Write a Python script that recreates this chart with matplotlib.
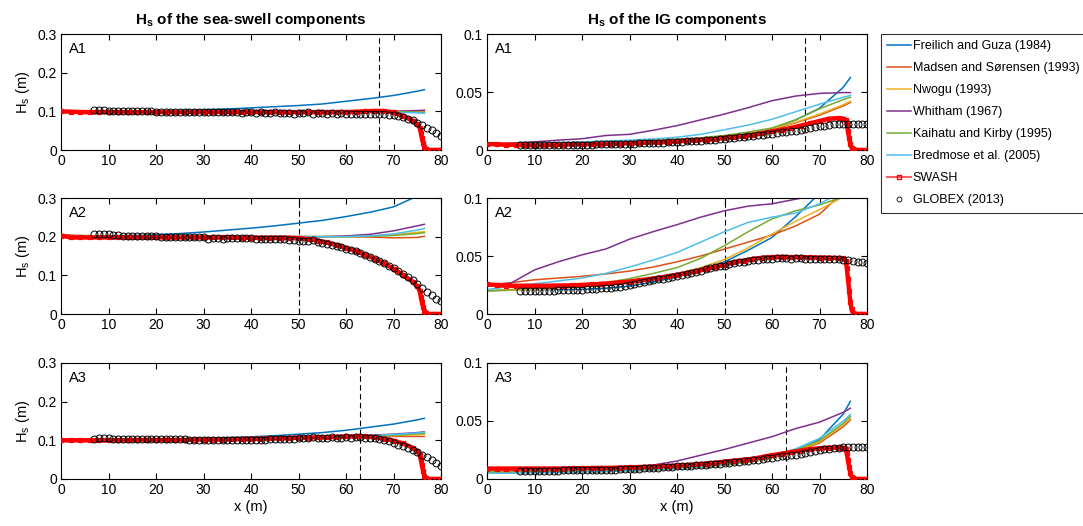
import numpy as np
import matplotlib
matplotlib.use('Agg')
import matplotlib.pyplot as plt
from matplotlib.lines import Line2D

plt.rcParams['font.family'] = ['Liberation Sans', 'DejaVu Sans']
plt.rcParams['mathtext.fontset'] = 'custom'
plt.rcParams['mathtext.rm'] = 'Liberation Sans'
plt.rcParams['mathtext.bf'] = 'Liberation Sans:bold'

# x positions (m)
model_x = [0, 5, 10, 15, 20, 25, 30, 35, 40, 45, 50, 55, 60, 65, 70, 75, 76.5]
swash_x = list(range(0, 75, 2)) + [75, 75.5, 75.75, 76, 76.25, 76.5, 76.75, 77, 78, 79, 80]
globex_x = list(range(7, 81))

model_names = ['Freilich and Guza (1984)', 'Madsen and Sørensen (1993)', 'Nwogu (1993)',
               'Whitham (1967)', 'Kaihatu and Kirby (1995)', 'Bredmose et al. (2005)']
model_colors = ['#0072BD', '#D95319', '#EDB120', '#7E2F8E', '#77AC30', '#4DBEEE']

# ---- A1, sea-swell ----
a1_ss_freilich = [0.1, 0.1, 0.1, 0.1, 0.101, 0.102, 0.104, 0.106, 0.109, 0.112, 0.115, 0.119, 0.126, 0.133, 0.141, 0.152, 0.156]
a1_ss_madsen = [0.1, 0.1, 0.1, 0.1, 0.1, 0.1, 0.1, 0.1, 0.1, 0.1, 0.1, 0.1, 0.1, 0.1, 0.1, 0.099, 0.099]
a1_ss_nwogu = [0.1, 0.1, 0.1, 0.1, 0.1, 0.1, 0.1, 0.1, 0.1, 0.1, 0.1, 0.1, 0.1, 0.1, 0.1, 0.1, 0.1]
a1_ss_whitham = [0.1, 0.1, 0.1, 0.1, 0.1, 0.1, 0.1, 0.1, 0.1, 0.1, 0.1, 0.1, 0.1, 0.1, 0.1, 0.102, 0.103]
a1_ss_kaihatu = [0.1, 0.1, 0.1, 0.1, 0.1, 0.1, 0.1, 0.1, 0.1, 0.1, 0.1, 0.1, 0.1, 0.1, 0.099, 0.098, 0.097]
a1_ss_bredmose = [0.1, 0.1, 0.1, 0.1, 0.1, 0.1, 0.1, 0.1, 0.1, 0.1, 0.1, 0.1, 0.1, 0.099, 0.098, 0.096, 0.095]
a1_ss_swash = [0.100, 0.099, 0.098, 0.098, 0.098, 0.098, 0.098, 0.098, 0.098, 0.098,
               0.098, 0.098, 0.098, 0.098, 0.098, 0.098, 0.098, 0.098, 0.098, 0.098,
               0.098, 0.098, 0.098, 0.098, 0.098, 0.098, 0.098, 0.098, 0.098, 0.098,
               0.098, 0.099, 0.1, 0.101, 0.101, 0.097, 0.088, 0.076,
               0.067, 0.058, 0.045, 0.03, 0.018, 0.008, 0.003, 0.0, 0.0, 0.0, 0.0]
a1_ss_globex = [0.103, 0.103, 0.103, 0.102, 0.102, 0.101, 0.101, 0.1, 0.1, 0.1,
                0.1, 0.1, 0.1, 0.099, 0.099, 0.099, 0.098, 0.099, 0.098, 0.098,
                0.099, 0.098, 0.097, 0.098, 0.097, 0.098, 0.097, 0.097, 0.098, 0.097,
                0.097, 0.096, 0.097, 0.097, 0.096, 0.097, 0.096, 0.096, 0.097, 0.096,
                0.095, 0.096, 0.094, 0.096, 0.095, 0.097, 0.094, 0.095, 0.096, 0.093,
                0.095, 0.094, 0.095, 0.094, 0.094, 0.093, 0.094, 0.093, 0.092, 0.093,
                0.092, 0.092, 0.091, 0.09, 0.088, 0.085, 0.081, 0.077, 0.071, 0.065,
                0.058, 0.051, 0.043, 0.036]

# ---- A1, IG ----
a1_ig_freilich = [0.005, 0.0052, 0.0055, 0.006, 0.0065, 0.007, 0.0075, 0.0082, 0.009, 0.01, 0.0115, 0.014, 0.018, 0.026, 0.036, 0.054, 0.0625]
a1_ig_madsen = [0.005, 0.0052, 0.0055, 0.006, 0.0065, 0.007, 0.0075, 0.0082, 0.009, 0.01, 0.0115, 0.014, 0.0175, 0.0235, 0.03, 0.038, 0.041]
a1_ig_nwogu = [0.005, 0.0052, 0.0055, 0.006, 0.0065, 0.007, 0.0075, 0.0082, 0.009, 0.01, 0.0115, 0.014, 0.018, 0.024, 0.031, 0.039, 0.042]
a1_ig_whitham = [0.005, 0.006, 0.007, 0.0085, 0.0097, 0.0125, 0.0135, 0.017, 0.021, 0.026, 0.031, 0.0365, 0.0425, 0.0465, 0.0488, 0.0495, 0.0495]
a1_ig_kaihatu = [0.005, 0.0052, 0.0055, 0.006, 0.0065, 0.007, 0.0075, 0.0082, 0.009, 0.0105, 0.0125, 0.0155, 0.019, 0.026, 0.0355, 0.0435, 0.0455]
a1_ig_bredmose = [0.005, 0.0053, 0.0058, 0.0063, 0.007, 0.0077, 0.0085, 0.0095, 0.011, 0.0135, 0.0175, 0.0215, 0.0265, 0.033, 0.0395, 0.0455, 0.047]
a1_ig_swash = [0.005, 0.005, 0.0045, 0.0045, 0.004, 0.004, 0.004, 0.0045, 0.0045, 0.005,
               0.005, 0.005, 0.005, 0.0055, 0.0055, 0.006, 0.006, 0.0065, 0.0065, 0.007,
               0.0075, 0.008, 0.0085, 0.009, 0.0095, 0.0105, 0.011, 0.012, 0.013, 0.0145,
               0.016, 0.0175, 0.019, 0.021, 0.023, 0.025, 0.027, 0.0275,
               0.027, 0.026, 0.022, 0.016, 0.01, 0.005, 0.002, 0.0005, 0.0, 0.0, 0.0]
a1_ig_globex = [0.0045, 0.0045, 0.0045, 0.0045, 0.0045, 0.0045, 0.0045, 0.0045, 0.0045, 0.0045,
                0.0045, 0.0045, 0.0045, 0.0045, 0.0045, 0.0045, 0.0048, 0.0048, 0.005, 0.005,
                0.005, 0.0052, 0.0052, 0.0055, 0.0055, 0.0057, 0.0058, 0.006, 0.006, 0.0062,
                0.0064, 0.0065, 0.0067, 0.007, 0.0072, 0.0074, 0.0076, 0.0078, 0.008, 0.0083,
                0.0086, 0.0089, 0.0092, 0.0096, 0.01, 0.0104, 0.0108, 0.0112, 0.0117, 0.0121,
                0.0126, 0.0131, 0.0136, 0.0141, 0.0146, 0.0151, 0.0157, 0.0163, 0.0168, 0.0174,
                0.018, 0.0187, 0.0195, 0.0203, 0.021, 0.0217, 0.0223, 0.0226, 0.0226, 0.0224,
                0.0222, 0.0222, 0.0223, 0.0224]

# ---- A2, sea-swell ----
a2_ss_freilich = [0.203, 0.201, 0.202, 0.203, 0.205, 0.208, 0.212, 0.217, 0.222, 0.228, 0.235, 0.242, 0.252, 0.263, 0.277, 0.305, 0.315]
a2_ss_madsen = [0.205, 0.202, 0.201, 0.2, 0.2, 0.2, 0.2, 0.2, 0.2, 0.2, 0.2, 0.2, 0.2, 0.199, 0.197, 0.198, 0.201]
a2_ss_nwogu = [0.203, 0.201, 0.2, 0.2, 0.2, 0.2, 0.2, 0.2, 0.2, 0.2, 0.2, 0.2, 0.2, 0.202, 0.205, 0.211, 0.213]
a2_ss_whitham = [0.203, 0.201, 0.2, 0.2, 0.2, 0.2, 0.2, 0.2, 0.2, 0.2, 0.2, 0.2, 0.202, 0.206, 0.215, 0.228, 0.232]
a2_ss_kaihatu = [0.203, 0.203, 0.201, 0.2, 0.2, 0.2, 0.2, 0.2, 0.2, 0.2, 0.2, 0.2, 0.2, 0.201, 0.203, 0.208, 0.21]
a2_ss_bredmose = [0.203, 0.201, 0.2, 0.2, 0.2, 0.2, 0.2, 0.2, 0.2, 0.2, 0.2, 0.2, 0.2, 0.202, 0.207, 0.217, 0.221]
a2_ss_swash = [0.203, 0.198, 0.198, 0.198, 0.198, 0.198, 0.198, 0.198, 0.198, 0.198,
               0.198, 0.198, 0.198, 0.198, 0.198, 0.198, 0.198, 0.198, 0.198, 0.197,
               0.197, 0.197, 0.197, 0.197, 0.197, 0.196, 0.194, 0.19, 0.185, 0.178,
               0.171, 0.163, 0.153, 0.143, 0.131, 0.117, 0.101, 0.084,
               0.072, 0.06, 0.045, 0.03, 0.018, 0.008, 0.003, 0.0, 0.0, 0.0, 0.0]
a2_ss_globex = [0.206, 0.207, 0.207, 0.206, 0.205, 0.204, 0.203, 0.203, 0.202, 0.202,
                0.202, 0.201, 0.201, 0.201, 0.2, 0.2, 0.2, 0.2, 0.2, 0.199,
                0.199, 0.198, 0.198, 0.198, 0.195, 0.197, 0.197, 0.194, 0.197, 0.197,
                0.196, 0.196, 0.196, 0.196, 0.195, 0.195, 0.195, 0.194, 0.194, 0.193,
                0.193, 0.192, 0.191, 0.19, 0.189, 0.19, 0.192, 0.186, 0.184, 0.181,
                0.178, 0.175, 0.172, 0.169, 0.166, 0.162, 0.158, 0.153, 0.148, 0.143,
                0.137, 0.131, 0.125, 0.118, 0.111, 0.104, 0.096, 0.088, 0.078, 0.068,
                0.057, 0.048, 0.04, 0.033]

# ---- A2, IG ----
a2_ig_freilich = [0.02, 0.0205, 0.021, 0.021, 0.0212, 0.0222, 0.024, 0.0275, 0.032, 0.038, 0.045, 0.055, 0.066, 0.084, 0.104, 0.125, 0.13]
a2_ig_madsen = [0.025, 0.027, 0.0295, 0.031, 0.0325, 0.0345, 0.037, 0.0405, 0.045, 0.05, 0.056, 0.062, 0.068, 0.076, 0.086, 0.105, 0.108]
a2_ig_nwogu = [0.02, 0.0205, 0.021, 0.022, 0.0232, 0.0245, 0.0265, 0.03, 0.0345, 0.04, 0.047, 0.057, 0.069, 0.08, 0.09, 0.101, 0.104]
a2_ig_whitham = [0.025, 0.0265, 0.038, 0.045, 0.051, 0.056, 0.0645, 0.071, 0.077, 0.0835, 0.089, 0.093, 0.095, 0.099, 0.103, 0.105, 0.106]
a2_ig_kaihatu = [0.02, 0.021, 0.0225, 0.0235, 0.025, 0.027, 0.0305, 0.035, 0.04, 0.048, 0.059, 0.071, 0.082, 0.089, 0.094, 0.101, 0.103]
a2_ig_bredmose = [0.021, 0.024, 0.026, 0.0285, 0.031, 0.035, 0.0405, 0.0465, 0.053, 0.062, 0.071, 0.079, 0.0835, 0.087, 0.095, 0.106, 0.108]
a2_ig_swash = [0.0255, 0.025, 0.0245, 0.0243, 0.0243, 0.0243, 0.0243, 0.0245, 0.0245, 0.0248,
               0.025, 0.0255, 0.026, 0.0265, 0.0272, 0.028, 0.029, 0.03, 0.0312, 0.0325,
               0.0338, 0.0352, 0.0368, 0.0385, 0.0405, 0.0425, 0.0445, 0.046, 0.0475, 0.0485,
               0.049, 0.0492, 0.049, 0.049, 0.0488, 0.0486, 0.0485, 0.0482,
               0.048, 0.046, 0.04, 0.03, 0.02, 0.01, 0.004, 0.001, 0.0, 0.0, 0.0]
a2_ig_globex = [0.0195, 0.0195, 0.0195, 0.0197, 0.0198, 0.02, 0.02, 0.0202, 0.0203, 0.0205,
                0.0206, 0.0208, 0.021, 0.0211, 0.0213, 0.0215, 0.0218, 0.022, 0.0223, 0.0227,
                0.023, 0.0236, 0.0243, 0.025, 0.0257, 0.0265, 0.0273, 0.0281, 0.029, 0.0298,
                0.0306, 0.0314, 0.0322, 0.033, 0.0339, 0.0348, 0.0357, 0.0366, 0.0375, 0.0384,
                0.0393, 0.0402, 0.041, 0.0418, 0.0428, 0.0437, 0.0445, 0.0452, 0.0458, 0.0464,
                0.0469, 0.0473, 0.0476, 0.0478, 0.048, 0.0479, 0.048, 0.0478, 0.048, 0.0479,
                0.0478, 0.0477, 0.0478, 0.0476, 0.0474, 0.0473, 0.0475, 0.047, 0.0468, 0.0465,
                0.0458, 0.045, 0.0445, 0.0443]

# ---- A3, sea-swell ----
a3_ss_freilich = [0.1, 0.1, 0.1, 0.101, 0.102, 0.103, 0.105, 0.107, 0.109, 0.112, 0.116, 0.12, 0.126, 0.134, 0.142, 0.153, 0.157]
a3_ss_madsen = [0.1, 0.1, 0.1, 0.1, 0.101, 0.101, 0.102, 0.103, 0.104, 0.105, 0.107, 0.108, 0.11, 0.11, 0.11, 0.11, 0.11]
a3_ss_nwogu = [0.1, 0.1, 0.1, 0.1, 0.101, 0.101, 0.102, 0.103, 0.104, 0.105, 0.107, 0.108, 0.11, 0.111, 0.112, 0.115, 0.116]
a3_ss_whitham = [0.1, 0.1, 0.1, 0.1, 0.101, 0.101, 0.102, 0.103, 0.105, 0.106, 0.108, 0.109, 0.111, 0.113, 0.116, 0.12, 0.122]
a3_ss_kaihatu = [0.1, 0.1, 0.1, 0.1, 0.101, 0.101, 0.102, 0.103, 0.104, 0.105, 0.107, 0.108, 0.11, 0.111, 0.113, 0.117, 0.118]
a3_ss_bredmose = [0.1, 0.1, 0.1, 0.1, 0.101, 0.101, 0.102, 0.103, 0.104, 0.105, 0.107, 0.109, 0.111, 0.112, 0.115, 0.119, 0.121]
a3_ss_swash = [0.1, 0.1, 0.1, 0.1, 0.1, 0.1, 0.1, 0.1, 0.101, 0.101,
               0.101, 0.101, 0.101, 0.101, 0.102, 0.102, 0.102, 0.102, 0.103, 0.103,
               0.104, 0.104, 0.105, 0.105, 0.106, 0.107, 0.107, 0.108, 0.108, 0.109,
               0.11, 0.11, 0.11, 0.108, 0.104, 0.099, 0.092, 0.081,
               0.072, 0.063, 0.05, 0.035, 0.02, 0.009, 0.003, 0.0, 0.0, 0.0, 0.0]
a3_ss_globex = [0.104, 0.105, 0.105, 0.105, 0.104, 0.104, 0.104, 0.103, 0.103, 0.103,
                0.103, 0.103, 0.103, 0.103, 0.103, 0.103, 0.103, 0.103, 0.103, 0.103,
                0.102, 0.102, 0.102, 0.102, 0.101, 0.102, 0.102, 0.102, 0.102, 0.102,
                0.102, 0.102, 0.102, 0.102, 0.102, 0.102, 0.102, 0.103, 0.103, 0.103,
                0.103, 0.104, 0.104, 0.105, 0.105, 0.106, 0.108, 0.106, 0.106, 0.107,
                0.108, 0.107, 0.107, 0.108, 0.107, 0.108, 0.108, 0.107, 0.107, 0.105,
                0.103, 0.1, 0.097, 0.093, 0.089, 0.085, 0.08, 0.075, 0.069, 0.063,
                0.057, 0.05, 0.042, 0.034]

# ---- A3, IG ----
a3_ig_freilich = [0.006, 0.006, 0.006, 0.006, 0.0062, 0.0065, 0.007, 0.0078, 0.0088, 0.0102, 0.012, 0.0145, 0.018, 0.0245, 0.034, 0.056, 0.067]
a3_ig_madsen = [0.006, 0.006, 0.006, 0.006, 0.0062, 0.0065, 0.007, 0.0078, 0.0088, 0.0102, 0.012, 0.0145, 0.0185, 0.024, 0.031, 0.045, 0.051]
a3_ig_nwogu = [0.006, 0.006, 0.006, 0.006, 0.0062, 0.0065, 0.007, 0.0078, 0.0088, 0.0102, 0.012, 0.0145, 0.018, 0.024, 0.032, 0.047, 0.053]
a3_ig_whitham = [0.008, 0.008, 0.0082, 0.0085, 0.009, 0.0095, 0.0103, 0.012, 0.0155, 0.0205, 0.0255, 0.031, 0.0365, 0.0435, 0.049, 0.0575, 0.061]
a3_ig_kaihatu = [0.006, 0.006, 0.006, 0.006, 0.0062, 0.0065, 0.007, 0.0078, 0.0088, 0.0102, 0.012, 0.015, 0.019, 0.025, 0.033, 0.048, 0.054]
a3_ig_bredmose = [0.005, 0.005, 0.0052, 0.0055, 0.006, 0.0065, 0.007, 0.0078, 0.009, 0.0105, 0.0125, 0.0155, 0.02, 0.026, 0.035, 0.05, 0.0555]
a3_ig_swash = [0.009, 0.009, 0.009, 0.009, 0.009, 0.009, 0.009, 0.009, 0.009, 0.0092,
               0.0093, 0.0094, 0.0095, 0.0096, 0.0098, 0.01, 0.0102, 0.0105, 0.0108, 0.0111,
               0.0115, 0.012, 0.0126, 0.0133, 0.014, 0.015, 0.0158, 0.0166, 0.0175, 0.019,
               0.0205, 0.0218, 0.0232, 0.0245, 0.0257, 0.0265, 0.027, 0.027,
               0.027, 0.026, 0.022, 0.016, 0.01, 0.005, 0.002, 0.0005, 0.0, 0.0, 0.0]
a3_ig_globex = [0.0072, 0.0072, 0.0072, 0.0072, 0.0073, 0.0073, 0.0073, 0.0073, 0.0073, 0.0074,
                0.0074, 0.0074, 0.0074, 0.0075, 0.0075, 0.0076, 0.0077, 0.0078, 0.0079, 0.008,
                0.0081, 0.0082, 0.0084, 0.0086, 0.0088, 0.009, 0.0092, 0.0094, 0.0096, 0.0098,
                0.01, 0.0102, 0.0105, 0.0108, 0.011, 0.0113, 0.0116, 0.0119, 0.0122, 0.0125,
                0.0128, 0.0131, 0.0133, 0.0135, 0.014, 0.0144, 0.0149, 0.0152, 0.0156, 0.016,
                0.0166, 0.0172, 0.018, 0.0185, 0.019, 0.0195, 0.02, 0.0205, 0.021, 0.0217,
                0.0224, 0.0232, 0.024, 0.0248, 0.0255, 0.026, 0.0265, 0.0268, 0.0272, 0.0273,
                0.0275, 0.0277, 0.0278, 0.028]

breaking_x = [67, 50, 63]  # dashed lines for A1, A2, A3
case_labels = ['A1', 'A2', 'A3']

ss_models = [
    [a1_ss_freilich, a1_ss_madsen, a1_ss_nwogu, a1_ss_whitham, a1_ss_kaihatu, a1_ss_bredmose],
    [a2_ss_freilich, a2_ss_madsen, a2_ss_nwogu, a2_ss_whitham, a2_ss_kaihatu, a2_ss_bredmose],
    [a3_ss_freilich, a3_ss_madsen, a3_ss_nwogu, a3_ss_whitham, a3_ss_kaihatu, a3_ss_bredmose],
]
ig_models = [
    [a1_ig_freilich, a1_ig_madsen, a1_ig_nwogu, a1_ig_whitham, a1_ig_kaihatu, a1_ig_bredmose],
    [a2_ig_freilich, a2_ig_madsen, a2_ig_nwogu, a2_ig_whitham, a2_ig_kaihatu, a2_ig_bredmose],
    [a3_ig_freilich, a3_ig_madsen, a3_ig_nwogu, a3_ig_whitham, a3_ig_kaihatu, a3_ig_bredmose],
]
ss_swash = [a1_ss_swash, a2_ss_swash, a3_ss_swash]
ig_swash = [a1_ig_swash, a2_ig_swash, a3_ig_swash]
ss_globex = [a1_ss_globex, a2_ss_globex, a3_ss_globex]
ig_globex = [a1_ig_globex, a2_ig_globex, a3_ig_globex]

fig = plt.figure(figsize=(10.83, 5.26), dpi=100)

W = 1083.0
H = 526.0
left_x0, right_x0, ax_w = 61, 487, 380
row_top = [34, 198, 363]
ax_h = 116


def draw_panel(ax, models, swash, globex, xb, label, ymax, yticks, yticklabels):
    for vals, c in zip(models, model_colors):
        ax.plot(model_x, vals, color=c, lw=1.1, zorder=2)
    ax.plot(swash_x, swash, color='red', lw=3.2, marker='s', ms=3.5, mfc='none',
            mew=0.9, zorder=3)
    ax.plot(globex_x, globex, 'o', color='black', ms=5, mfc='none', mew=0.7, zorder=4)
    ax.axvline(xb, color='black', ls=(0, (5, 3)), lw=0.8, zorder=1)
    ax.set_xlim(0, 80)
    ax.set_ylim(0, ymax)
    ax.set_xticks(range(0, 81, 10))
    ax.set_yticks(yticks)
    ax.set_yticklabels(yticklabels)
    ax.tick_params(direction='in', top=True, right=True, labelsize=10, length=4, width=0.8,
                   pad=3)
    for s in ax.spines.values():
        s.set_linewidth(0.8)
    ax.text(0.02, 0.93, label, transform=ax.transAxes, ha='left', va='top', fontsize=10.5)


for i in range(3):
    bottom = 1 - (row_top[i] + ax_h) / H
    axl = fig.add_axes([left_x0 / W, bottom, ax_w / W, ax_h / H])
    draw_panel(axl, ss_models[i], ss_swash[i], ss_globex[i], breaking_x[i], case_labels[i],
               0.3, [0, 0.1, 0.2, 0.3], ['0', '0.1', '0.2', '0.3'])
    axl.set_ylabel(r'H$_\mathrm{s}$ (m)', fontsize=10.5, labelpad=4)

    axr = fig.add_axes([right_x0 / W, bottom, ax_w / W, ax_h / H])
    draw_panel(axr, ig_models[i], ig_swash[i], ig_globex[i], breaking_x[i], case_labels[i],
               0.1, [0, 0.05, 0.1], ['0', '0.05', '0.1'])
    if i == 0:
        axl.set_title(r'H$_\mathbf{s}$ of the sea-swell components', fontsize=11,
                      fontweight='bold', pad=7)
        axr.set_title(r'H$_\mathbf{s}$ of the IG components', fontsize=11,
                      fontweight='bold', pad=7)
    if i == 2:
        axl.set_xlabel('x (m)', fontsize=10.5, labelpad=2)
        axr.set_xlabel('x (m)', fontsize=10.5, labelpad=2)

handles = [Line2D([], [], color=c, lw=1.1) for c in model_colors]
handles.append(Line2D([], [], color='#ff6060', lw=1.5, marker='s', ms=3, mfc='none', mec='red'))
handles.append(Line2D([], [], color='black', ls='none', marker='o', ms=3.5, mfc='none', mew=0.6))
labels = model_names + ['SWASH', 'GLOBEX (2013)']
leg = fig.legend(handles, labels, loc='upper left', bbox_to_anchor=(881 / W, 1 - 34 / H),
                 fontsize=9, frameon=True, fancybox=False, edgecolor='black',
                 handlelength=1.9, handletextpad=0.15, labelspacing=0.8, borderpad=0.5,
                 borderaxespad=0)
leg.get_frame().set_linewidth(0.8)

fig.savefig('out.png', dpi=100)
